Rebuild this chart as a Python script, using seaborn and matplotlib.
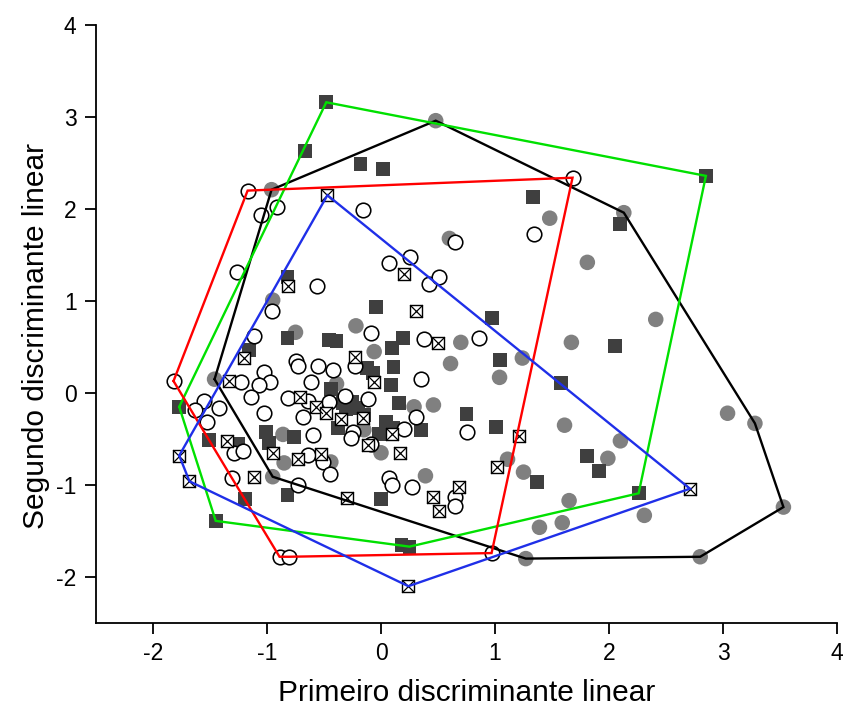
import matplotlib
matplotlib.use("Agg")
import matplotlib.pyplot as plt
import seaborn as sns
import numpy as np

# ---- data ----
# group A: grey filled circles (black hull)
gc_x = [0.48, -0.96, 0.60, 1.48, 2.13, 1.81, 2.41, -0.95, -0.75, -0.22, -0.06, 0.70, 1.67, 0.61,
        1.24, 1.04, -1.46, -0.39, 0.29, 0.46, -0.15, -0.86, 0.00, -0.85, -0.44, -0.95, 0.39, 1.11,
        1.25, 1.61, 2.10, 1.99, 3.04, 3.28, 3.53, 2.31, 1.65, 1.39, 1.59, 1.27, 2.80]
gc_y = [2.96, 2.21, 1.68, 1.90, 1.96, 1.42, 0.80, 1.01, 0.66, 0.73, 0.45, 0.55, 0.55, 0.32,
        0.38, 0.17, 0.15, 0.10, -0.15, -0.13, -0.40, -0.45, -0.65, -0.76, -0.75, -0.91, -0.90, -0.72,
        -0.86, -0.35, -0.52, -0.71, -0.22, -0.33, -1.24, -1.33, -1.17, -1.46, -1.41, -1.80, -1.78]

# group B: dark filled squares (green hull)
sq_x = [-0.48, -0.67, -0.18, 0.02, 1.33, 2.10, 2.85, -0.82, -0.04, 0.97, 2.05, -0.82, -0.46, -0.39,
        0.19, 0.10, -1.16, 1.04, -0.12, -0.07, 0.11, 0.09, -0.44, 0.16, -0.33, -0.25, -0.31, -0.20,
        -0.15, -0.38, 0.04, 0.11, -0.02, 0.35, 0.75, 1.01, 1.58, 1.81, 1.91, 1.37, 2.26, -1.77,
        -1.51, -1.25, -1.01, -0.98, -0.76, -1.19, -0.82, 0.00, -1.45, 0.18, 0.25]
sq_y = [3.16, 2.63, 2.49, 2.43, 2.13, 1.84, 2.36, 1.26, 0.93, 0.82, 0.51, 0.60, 0.58, 0.57,
        0.60, 0.49, 0.47, 0.36, 0.27, 0.22, 0.28, 0.09, 0.04, -0.11, -0.11, -0.10, -0.17, -0.16,
        -0.24, -0.38, -0.32, -0.38, -0.45, -0.40, -0.23, -0.37, 0.11, -0.68, -0.85, -0.97, -1.09, -0.15,
        -0.51, -0.55, -0.42, -0.54, -0.48, -1.15, -1.11, -1.15, -1.39, -1.65, -1.67]

# group C: open circles (red hull)
oc_x = [-1.17, -0.91, -1.05, -0.16, 1.68, 1.34, 0.65, 0.07, 0.25, 0.42, 0.51, -1.26, -0.56, -0.96,
        -0.09, -1.11, 0.38, 0.86, -0.75, -0.73, -0.55, -0.42, -0.23, -1.03, -0.97, -1.07, -1.23, -0.61,
        -1.14, -1.03, -0.82, -0.64, -0.46, -0.32, -0.11, -0.68, 0.35, 0.75, 0.31, 0.20, -0.25, -0.26,
        -0.09, -0.60, -1.42, -1.55, -1.63, -1.53, -1.82, -1.29, -1.21, -0.64, -0.51, -0.45, -1.31,
        0.07, 0.10, 0.27, 0.65, 0.65, -0.73, -0.89, -0.81, 0.97]
oc_y = [2.20, 2.02, 1.93, 1.99, 2.34, 1.73, 1.64, 1.41, 1.48, 1.18, 1.26, 1.32, 1.16, 0.89,
        0.65, 0.62, 0.59, 0.60, 0.35, 0.29, 0.29, 0.25, 0.29, 0.23, 0.12, 0.09, 0.12, 0.12,
        -0.04, -0.22, -0.05, -0.09, -0.10, -0.03, -0.07, -0.26, 0.15, -0.42, -0.26, -0.39, -0.42, -0.49,
        -0.55, -0.46, -0.16, -0.09, -0.18, -0.32, 0.13, -0.65, -0.63, -0.67, -0.75, -0.88, -0.92,
        -0.92, -1.00, -1.02, -1.13, -1.23, -1.00, -1.78, -1.78, -1.74]

# group D: boxed-X squares (blue hull)
xs_x = [-0.47, 0.20, -0.82, 0.31, 0.50, -1.20, -0.23, -0.06, -1.33, -0.71, -0.57, -0.48, -0.35, -0.16,
        0.10, -1.35, -0.95, -0.73, -0.53, 0.17, -0.11, -1.77, -1.68, -1.11, -0.30, 0.46, 0.68, 0.51,
        1.02, 1.21, 2.71, 0.24]
xs_y = [2.15, 1.29, 1.16, 0.89, 0.54, 0.38, 0.39, 0.12, 0.13, -0.04, -0.15, -0.22, -0.28, -0.27,
        -0.45, -0.52, -0.65, -0.72, -0.66, -0.65, -0.57, -0.68, -0.96, -0.91, -1.14, -1.13, -1.02, -1.28,
        -0.80, -0.47, -1.04, -2.10]

ticks = [-2, -1, 0, 1, 2, 3, 4]
xlabel = "Primeiro discriminante linear"
ylabel = "Segundo discriminante linear"


def convex_hull(xs, ys):
    pts = sorted(set(zip(xs, ys)))

    def cross(o, a, b):
        return (a[0] - o[0]) * (b[1] - o[1]) - (a[1] - o[1]) * (b[0] - o[0])

    lower, upper = [], []
    for p in pts:
        while len(lower) >= 2 and cross(lower[-2], lower[-1], p) <= 0:
            lower.pop()
        lower.append(p)
    for p in reversed(pts):
        while len(upper) >= 2 and cross(upper[-2], upper[-1], p) <= 0:
            upper.pop()
        upper.append(p)
    h = lower[:-1] + upper[:-1]
    h.append(h[0])
    return [p[0] for p in h], [p[1] for p in h]


sns.set_theme(style="white")
plt.rcParams['font.family'] = ['Liberation Sans', 'DejaVu Sans']
for k in ['text.color', 'axes.labelcolor', 'xtick.color', 'ytick.color', 'axes.edgecolor']:
    plt.rcParams[k] = 'black'

fig = plt.figure(figsize=(8.45, 7.11), dpi=100)
ax = fig.add_axes([96 / 845, 88 / 711, 741 / 845, 598 / 711])

sns.scatterplot(x=gc_x, y=gc_y, marker='o', s=125, color='#808080', edgecolor='none',
                linewidth=0, ax=ax, zorder=2)
sns.scatterplot(x=sq_x, y=sq_y, marker='s', s=100, color='#3f3f3f', edgecolor='none',
                linewidth=0, ax=ax, zorder=3)
sns.scatterplot(x=oc_x, y=oc_y, marker='o', s=110, color='white', edgecolor='black',
                linewidth=1.15, ax=ax, zorder=4)
sns.scatterplot(x=xs_x, y=xs_y, marker='s', s=85, color='white', edgecolor='black',
                linewidth=1.0, ax=ax, zorder=5)
sns.scatterplot(x=xs_x, y=xs_y, marker='x', s=85, color='black',
                linewidth=0.9, ax=ax, zorder=6)

for gx, gy, col in [(gc_x, gc_y, 'black'), (sq_x, sq_y, '#00e000'),
                    (oc_x, oc_y, '#ff0000'), (xs_x, xs_y, '#1f2fe8')]:
    hx, hy = convex_hull(gx, gy)
    ax.plot(hx, hy, color=col, linewidth=1.7, zorder=7, solid_joinstyle='miter')

ax.set_xlim(-2.5, 4)
ax.set_ylim(-2.5, 4)
ax.set_xticks(ticks)
ax.set_yticks(ticks)
ax.set_xticklabels([str(t) for t in ticks])
ax.set_yticklabels([str(t) for t in ticks])
for s in ['top', 'right']:
    ax.spines[s].set_visible(False)
for s in ['left', 'bottom']:
    ax.spines[s].set_color('black')
    ax.spines[s].set_linewidth(1.3)
ax.tick_params(axis='both', direction='out', length=8, width=1.3, colors='black',
               labelsize=16.5, pad=6, left=True, bottom=True)
ax.set_xlabel(xlabel, fontsize=21.5, labelpad=10)
ax.set_ylabel(ylabel, fontsize=21.5, labelpad=6)
ax.yaxis.set_label_coords(-0.062, 0.48)
ax.grid(False)

fig.savefig("out.png", dpi=100)
